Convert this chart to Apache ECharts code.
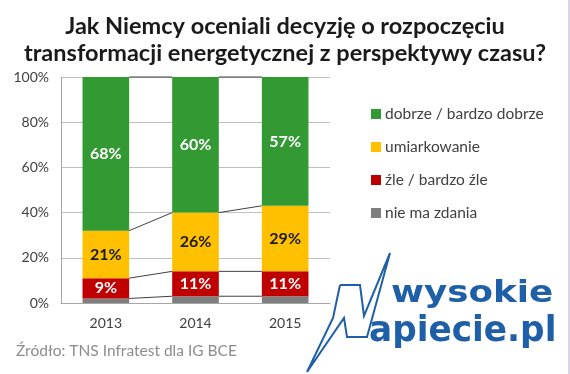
<!DOCTYPE html>
<html><head><meta charset="utf-8">
<script src="https://cdn.jsdelivr.net/npm/echarts@6/dist/echarts.min.js"></script>
<style>html,body{margin:0;padding:0;background:#fff}#c{width:570px;height:374px}</style>
</head><body><div id="c"></div>
<script>
var years = ['2013', '2014', '2015'];
var noOpinion = [2, 3, 3];
var bad = [9, 11, 11];
var moderate = [21, 26, 29];
var good = [68, 60, 57];
var yTicks = [0, 20, 40, 60, 80, 100];
var names = ['dobrze / bardzo dobrze', 'umiarkowanie', 'źle / bardzo źle', 'nie ma zdania'];

var FONT = 'Lato';
var chart = echarts.init(document.getElementById('c'));

var stacks = [noOpinion, bad, moderate, good];
var cumRows = [];
for (var i = 0; i < years.length; i++) {
  var s = 0, row = [];
  for (var k = 0; k < stacks.length; k++) { s += stacks[k][i]; row.push(s); }
  cumRows.push(row);
}
var lineData = [];
for (var i = 0; i < years.length - 1; i++) lineData.push([i].concat(cumRows[i]).concat(cumRows[i + 1]));

function barSeries(name, data, color, labelColor, showLabel) {
  return {
    name: name, type: 'bar', stack: 'all', data: data, barWidth: '52%',
    itemStyle: { color: color },
    label: { show: showLabel, position: 'inside', color: labelColor, fontFamily: FONT, fontWeight: 'bold', fontSize: 16,
      formatter: function (p) { return p.value + '%'; } },
    emphasis: { disabled: true }
  };
}

chart.setOption({
  animation: false,
  textStyle: { fontFamily: FONT },
  grid: { left: 61, right: 240, top: 77, bottom: 71 },
  title: {
    text: 'Jak Niemcy oceniali decyzję o rozpoczęciu\ntransformacji energetycznej z perspektywy czasu?',
    left: 'center', top: 8,
    textStyle: { fontFamily: FONT, fontWeight: 'bold', fontSize: 23.5, color: '#1a1a1a', lineHeight: 27 }
  },
  legend: {
    orient: 'vertical', left: 366, top: 101, itemWidth: 10, itemHeight: 10, itemGap: 17,
    data: names, icon: 'rect',
    textStyle: { fontFamily: FONT, fontSize: 15.5, color: '#404040', padding: [0, 0, 0, -1] }
  },
  xAxis: {
    type: 'category', data: years,
    axisLine: { lineStyle: { color: '#a6a6a6' } },
    axisTick: { show: false },
    axisLabel: { fontFamily: FONT, fontSize: 14, color: '#404040', margin: 13 }
  },
  yAxis: {
    type: 'value', min: 0, max: 100, interval: 20,
    axisLine: { show: true, lineStyle: { color: '#a6a6a6' } },
    axisTick: { show: false },
    splitLine: { lineStyle: { color: '#bfbfbf' } },
    axisLabel: { fontFamily: FONT, fontSize: 14, color: '#404040', margin: 12, formatter: '{value}%' }
  },
  series: [
    barSeries(names[3], noOpinion, '#7f7f7f', '#fff', false),
    barSeries(names[2], bad, '#c00000', '#fff', true),
    barSeries(names[1], moderate, '#ffc000', '#1a1a1a', true),
    barSeries(names[0], good, '#339933', '#fff', true),
    {
      type: 'custom', data: lineData, silent: true, z: 5,
      renderItem: function (params, api) {
        var i = api.value(0);
        var bw = api.size([1, 0])[0] * 0.52;
        var children = [];
        for (var k = 0; k < 4; k++) {
          var a = api.coord([i, api.value(1 + k)]);
          var b = api.coord([i + 1, api.value(5 + k)]);
          children.push({ type: 'line', shape: { x1: a[0] + bw / 2, y1: a[1], x2: b[0] - bw / 2, y2: b[1] },
            style: { stroke: '#404040', lineWidth: 1 } });
        }
        return { type: 'group', children: children };
      }
    }
  ],
  graphic: [
    { type: 'text', left: 16, top: 343, style: { text: 'Źródło: TNS Infratest dla IG BCE', fontFamily: FONT, fontSize: 15.5, fill: '#8c8c8c' } },
    { type: 'polyline', shape: { points: [[340,285],[360,285],[364,316],[390,253],[367,337],[347,337],[344,318],[307,372],[333,318],[340,285]] },
      style: { stroke: '#1f5fa8', lineWidth: 2, fill: null } },
    { type: 'text', x: 391, y: 279, scaleX: 1.19, style: { text: 'wysokie', fontFamily: 'DejaVu Sans', fontWeight: 'bold', fontSize: 30, fill: '#1f5fa8' } },
    { type: 'text', x: 369, y: 314, scaleX: 0.98, style: { text: 'apiecie.pl', fontFamily: 'DejaVu Sans', fontWeight: 'bold', fontSize: 35, fill: '#1f5fa8' } },
    { type: 'line', shape: { x1: 569, y1: 0, x2: 569, y2: 374 }, style: { stroke: '#b4a8cc', lineWidth: 1 } }
  ]
});
</script></body></html>
